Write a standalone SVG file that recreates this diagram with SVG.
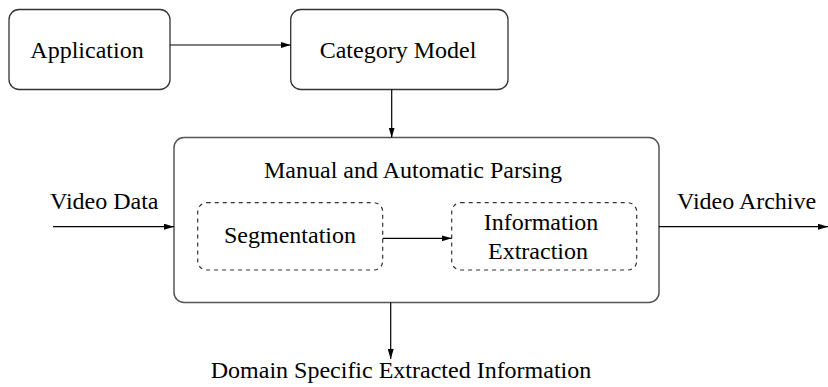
<svg xmlns="http://www.w3.org/2000/svg" width="828" height="387" viewBox="0 0 828 387">
<defs>
<style>
text{font-family:'Liberation Serif','DejaVu Serif',serif;font-size:24px;fill:#000}
.box{fill:#fff;stroke:#333;stroke-width:1.3}
.main{fill:#fff;stroke:#555;stroke-width:1.5}
.dash{fill:none;stroke:#333;stroke-width:1.2;stroke-dasharray:4 4}
.conn{fill:none;stroke:#000;stroke-width:1.2;marker-end:url(#ah)}
</style>
<marker id="ah" viewBox="0 0 10 6" refX="10" refY="3" markerWidth="10" markerHeight="6" markerUnits="userSpaceOnUse" orient="auto">
<path d="M0,0 L10,3 L0,6 z" fill="#000"/>
</marker>
</defs>
<g id="application">
<rect class="box" x="9" y="9.5" width="161" height="80" rx="10"/>
<text x="87" y="58" text-anchor="middle" font-family="Liberation Serif, serif">Application</text>
</g>
<g id="category-model">
<rect class="box" x="290.7" y="9.5" width="217.3" height="80" rx="10"/>
<text x="398" y="58" text-anchor="middle">Category Model</text>
</g>
<g id="parsing">
<rect class="main" x="174" y="137.5" width="485" height="165" rx="10"/>
<text x="413" y="178" text-anchor="middle">Manual and Automatic Parsing</text>
</g>
<g id="segmentation">
<rect class="dash" x="197.7" y="202.7" width="185" height="67.3" rx="9"/>
<text x="290" y="243" text-anchor="middle">Segmentation</text>
</g>
<g id="information-extraction">
<rect class="dash" x="451.7" y="202.7" width="185" height="67.3" rx="9"/>
<text x="541" y="230" text-anchor="middle">Information</text>
<text x="538" y="258.5" text-anchor="middle">Extraction</text>
</g>
<g id="labels">
<text x="50" y="209">Video Data</text>
<text x="677" y="209">Video Archive</text>
<text x="401" y="378" text-anchor="middle">Domain Specific Extracted Information</text>
</g>
<g id="connectors">
<line class="conn" x1="170" y1="45" x2="290.7" y2="45"/>
<line class="conn" x1="391.7" y1="89.5" x2="391.7" y2="137.5"/>
<line class="conn" x1="382.7" y1="238.3" x2="451.7" y2="238.3"/>
<line class="conn" x1="53" y1="226.7" x2="174" y2="226.7"/>
<line class="conn" x1="659" y1="226.7" x2="828" y2="226.7"/>
<line class="conn" x1="390.7" y1="302.5" x2="390.7" y2="359"/>
</g>
</svg>
